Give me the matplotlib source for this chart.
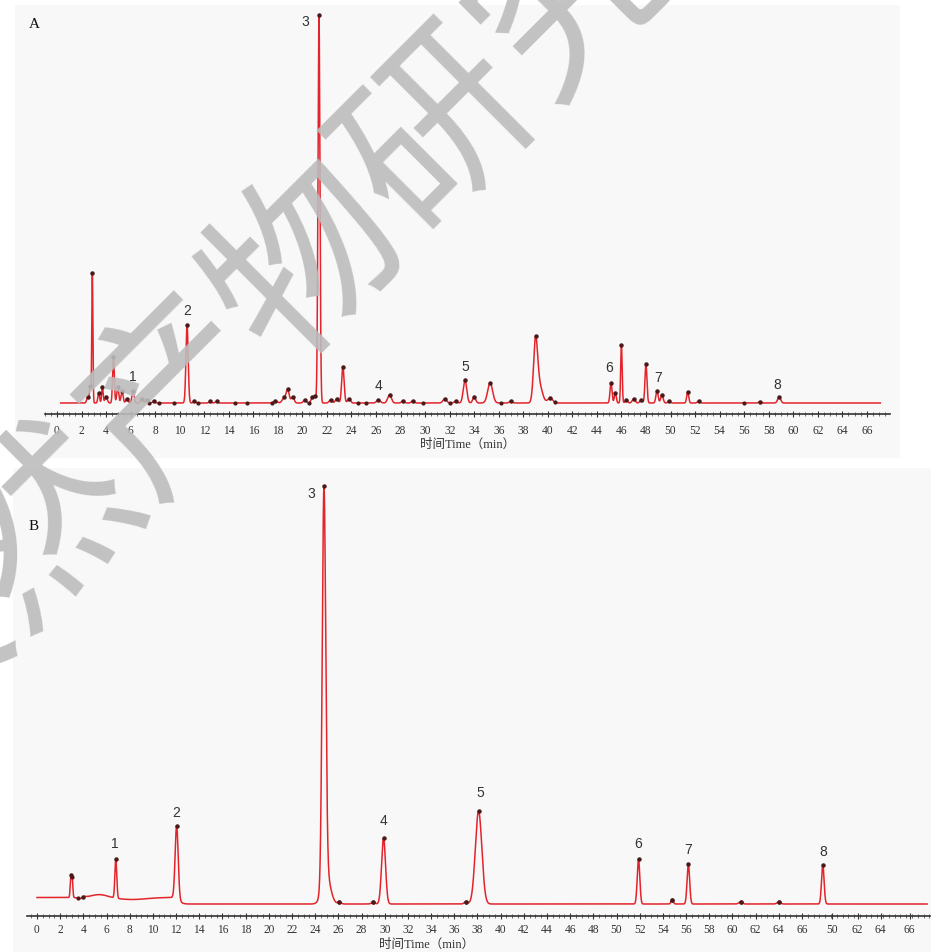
import numpy as np
import matplotlib
matplotlib.use('Agg')
from matplotlib import pyplot as plt
from matplotlib.ticker import FixedLocator

# ---- data (time in min, height in px above baseline) ----
# panel A: sample chromatogram
a_peak_t = [2.5, 2.7, 2.88, 3.4, 3.7, 4.0, 4.6, 4.95, 5.3, 5.7, 6.2, 6.9, 7.3, 7.9,
            10.6, 11.2, 12.5, 13.0, 17.8, 18.5, 18.8, 19.2, 20.2, 20.8, 21.0,
            21.35, 22.3, 22.8, 23.3, 23.8, 26.2, 27.1, 28.2, 29.0, 31.6, 32.5,
            33.25, 34.0, 35.3, 37.0, 39.0, 39.3, 40.2, 45.15, 45.5, 46.0, 46.4,
            47.0, 47.6, 48.0, 48.9, 49.3, 49.9, 51.4, 52.3, 57.3, 58.85]
a_peak_h = [6, 17, 130, 10, 16, 6, 46, 16, 12, 4, 12, 4, 3, 2,
            78, 2, 1.5, 1.5, 2, 5, 13, 6, 3, 5, 6,
            388, 3, 4, 36, 4, 3, 8, 2, 2, 4, 2,
            23, 6, 20, 2, 58, 18, 5, 20, 10, 58, 3,
            4, 3, 39, 12, 8, 2, 11, 2, 1.5, 6]
a_peak_w = [0.08, 0.06, 0.045, 0.07, 0.06, 0.1, 0.07, 0.08, 0.08, 0.1, 0.09, 0.1, 0.1, 0.1,
            0.09, 0.1, 0.1, 0.1, 0.15, 0.15, 0.12, 0.12, 0.12, 0.1, 0.1,
            0.08, 0.12, 0.12, 0.1, 0.12, 0.15, 0.15, 0.12, 0.12, 0.15, 0.12,
            0.14, 0.12, 0.2, 0.12, 0.16, 0.25, 0.2, 0.08, 0.08, 0.06, 0.1,
            0.12, 0.1, 0.08, 0.09, 0.1, 0.1, 0.08, 0.1, 0.1, 0.12]
a_shoulders = [39.3]     # peaks without an apex marker
a_dot_t = [7.5, 8.3, 9.5, 11.5, 14.5, 15.5, 17.5, 20.5, 24.5, 25.2, 29.8, 32.0, 36.2, 40.6, 56.0]
a_range = (0.3, 67.1)
a_label_t = [6.2, 10.6, 21.35, 26.2, 33.25, 45.15, 48.9, 58.85]
a_labels = ['1', '2', '3', '4', '5', '6', '7', '8']
a_ticks = list(range(0, 67, 2))

# panel B: reference standards
b_peak_t = [2.93, 3.05, 4.0, 6.8, 12.05, 24.76, 24.95, 26.1, 29.0, 29.9, 37.0,
            38.1, 51.9, 54.8, 56.2, 60.7, 64.0, 67.8]
b_peak_h = [22, 16, 1, 39, 73, 392, 30, 1.5, 1.5, 66, 2,
            93, 45, 4, 40, 2, 2, 39]
b_peak_w = [0.06, 0.05, 0.15, 0.08, 0.13, 0.15, 0.35, 0.15, 0.15, 0.17, 0.15,
            0.28, 0.11, 0.1, 0.11, 0.15, 0.15, 0.11]
b_shoulders = [3.05, 24.95]
b_drift_level = 6.5      # baseline before the step (px)
b_drift_t = 12.3         # time of the baseline step
b_bump_t = [5.4, 8.2, 3.7]
b_bump_h = [3.0, -2.0, -1.5]
b_bump_w = [0.7, 1.2, 0.2]
b_dot_t = [3.0, 3.5, 26.1, 29.0, 37.0, 54.8, 60.7, 64.0]
b_range = (0.0, 76.8)
b_label_t = [6.8, 12.05, 24.76, 29.9, 38.1, 51.9, 56.2, 67.8]
b_labels = ['1', '2', '3', '4', '5', '6', '7', '8']
b_ticks = list(range(0, 67, 2)) + [68.6, 70.8, 72.8, 75.3]
b_tick_labels = [str(v) for v in range(0, 67, 2)] + ['50', '62', '64', '66']

xlabel = '时间Time（min）'
watermark = '天然产物研究与开发'

RED = '#e3242b'
DOT = '#4a1a1a'
W, H = 931, 952


def peaks(t, pt, ph, pw):
    y = np.zeros_like(t)
    for c, h, s in zip(pt, ph, pw):
        y += h * np.exp(-0.5 * ((t - c) / s) ** 2)
    return y


def trace_a(t):
    return peaks(t, a_peak_t, a_peak_h, a_peak_w)


def trace_b(t):
    base = b_drift_level / (1 + np.exp((t - b_drift_t) / 0.15))
    return base + peaks(t, b_bump_t, b_bump_h, b_bump_w) + peaks(t, b_peak_t, b_peak_h, b_peak_w)


def px_axes(fig, x0, y0, x1, y1):
    return fig.add_axes([x0 / W, 1 - y1 / H, (x1 - x0) / W, (y1 - y0) / H])


def draw_panel(ax, func, trange, peak_t, skip, dot_t, label_t, labels, offsets,
               ticks, tick_labels, axis_h, axis_bounds, pad):
    ax.set_facecolor('#f8f8f8')
    t = np.linspace(trange[0], trange[1], 8000)
    ax.plot(t, func(t), color=RED, lw=1.1, zorder=3)
    pt = np.array([p for p in peak_t if p not in skip])
    ax.plot(pt, func(pt), 'o', ms=2.2, color=DOT, zorder=4)
    dt = np.array(dot_t)
    ax.plot(dt, func(dt), 'o', ms=2.0, color=DOT, zorder=4)
    for lt, lab, off in zip(label_t, labels, offsets):
        ax.annotate(lab, (lt, func(np.array([lt]))[0]), xytext=off, textcoords='offset points',
                    ha='center', va='center', fontsize=10, color='#333333',
                    family='Liberation Sans', zorder=5)
    for s in ['top', 'right', 'left']:
        ax.spines[s].set_visible(False)
    ax.spines['bottom'].set_position(('data', axis_h))
    ax.spines['bottom'].set_bounds(*axis_bounds)
    ax.spines['bottom'].set_color('#333333')
    ax.spines['bottom'].set_linewidth(1.2)
    ax.set_yticks([])
    ax.set_xticks(ticks)
    ax.set_xticklabels(tick_labels, family='Liberation Serif', fontsize=8.3, color='#333333')
    # minor ticks only along the drawn axis line
    ax.xaxis.set_minor_locator(FixedLocator(np.arange(np.ceil(axis_bounds[0] * 2) / 2,
                                                      axis_bounds[1], 0.5)))
    ax.tick_params(axis='x', which='major', direction='inout', length=4, width=0.8,
                   color='#333333', pad=pad)
    ax.tick_params(axis='x', which='minor', direction='inout', length=2.5, width=0.6,
                   color='#555555')


fig = plt.figure(figsize=(W / 100, H / 100), dpi=100)
cjk_serif = ['Liberation Serif', 'Noto Sans CJK SC']

# panel A: t=0 at x=57px, 12.27 px/min; baseline at y=403px
axA = px_axes(fig, 15, 5, 900, 458)
axA.set_xlim((15 - 57) / 12.27, (900 - 57) / 12.27)
axA.set_ylim(403 - 458, 403 - 5)
draw_panel(axA, trace_a, a_range, a_peak_t, a_shoulders, a_dot_t, a_label_t, a_labels,
           [(0, 10), (0, 10), (-10, -5), (0, 10), (0, 9), (-1, 11), (1, 9), (-1, 9)],
           a_ticks, [str(v) for v in a_ticks], -11, (-1.0, 67.9), 6)
fig.text(468 / W, 1 - 445 / H, xlabel, family=cjk_serif, fontsize=9, color='#333333',
         ha='center', va='center')
fig.text(34 / W, 1 - 25 / H, 'A', family='Liberation Serif', fontsize=11, color='#111111',
         ha='center', va='center')

# panel B: t=0 at x=37px, 11.59 px/min; baseline at y=904px
axB = px_axes(fig, 13, 468, 931, 952)
axB.set_xlim((13 - 37) / 11.59, (931 - 37) / 11.59)
axB.set_ylim(904 - 952, 904 - 468)
draw_panel(axB, trace_b, b_range, b_peak_t, b_shoulders, b_dot_t, b_label_t, b_labels,
           [(-1, 11), (0, 9), (-9, -6), (0, 12), (1, 13), (0, 11), (0, 10), (0, 9)],
           b_ticks, b_tick_labels, -12, (-0.86, 77.05), 3.5)
fig.text(427 / W, 1 - 945 / H, xlabel, family=cjk_serif, fontsize=9, color='#333333',
         ha='center', va='center')
fig.text(34 / W, 1 - 527 / H, 'B', family='Liberation Serif', fontsize=11, color='#111111',
         ha='center', va='center')

# watermark over both panels
fig.text(440 / W, 1 - 132 / H, watermark, rotation=45, rotation_mode='anchor',
         ha='center', va='center', fontsize=134, fontweight='medium',
         family='Noto Sans CJK SC', color='#bcbcbc', alpha=0.9, zorder=10)

fig.savefig('out.png', dpi=100, facecolor='white')
